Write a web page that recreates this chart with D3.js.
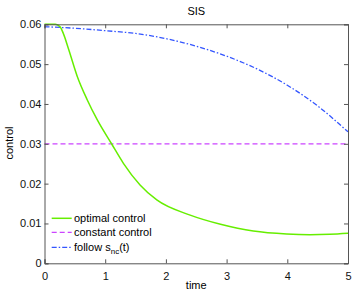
<!DOCTYPE html>
<html><head><meta charset="utf-8">
<script src="https://cdn.jsdelivr.net/npm/d3@7"></script>
<style>body{margin:0;background:#fff}svg{display:block;font-family:"Liberation Sans",Arial,sans-serif}</style>
</head><body><svg id="c" width="354" height="294"></svg>
<script>
const optT = [0, 0.18, 0.26, 0.305, 0.40, 0.54, 0.705, 0.87, 1.107, 1.30, 1.574, 1.85, 2.40, 2.9, 3.44, 3.99, 4.37, 4.7, 5.0];
const optV = [0.06, 0.06, 0.0593, 0.0579, 0.0536, 0.0469, 0.0410, 0.0360, 0.02995, 0.0251, 0.01966, 0.0159, 0.0121, 0.0098, 0.0081, 0.00736, 0.00718, 0.00728, 0.00753];
const constT = [0, 5];
const constV = [0.03, 0.03];
const folT = [0, 0.5, 1.0, 1.5, 2.0, 2.5, 3.0, 3.5, 4.0, 4.5, 5.0];
const folV = [0.0594, 0.059, 0.0584, 0.0577, 0.0564, 0.0545, 0.052, 0.0488, 0.0447, 0.0395, 0.033];
const xTicks = [0, 1, 2, 3, 4, 5];
const yTicks = [0, 0.01, 0.02, 0.03, 0.04, 0.05, 0.06];
const yTickLabels = ["0", "0.01", "0.02", "0.03", "0.04", "0.05", "0.06"];

const svg = d3.select("#c");
const L = 44.5, R = 348, T = 24.3, B = 263.3;
const x = d3.scaleLinear().domain([0, 5]).range([L, R]);
const y = d3.scaleLinear().domain([0, 0.06]).range([B, T]);

const g = svg.append("g");
const ax = svg.append("g").attr("transform", `translate(0,${B})`)
  .call(d3.axisBottom(x).tickValues(xTicks).tickSize(-4).tickPadding(9).tickFormat(d3.format("d")));
const axT = svg.append("g").attr("transform", `translate(0,${T})`)
  .call(d3.axisTop(x).tickValues(xTicks).tickSize(-4).tickFormat(""));
const ay = svg.append("g").attr("transform", `translate(${L},0)`)
  .call(d3.axisLeft(y).tickValues(yTicks).tickSize(-4).tickPadding(3).tickFormat((d, i) => yTickLabels[i]));
const ayR = svg.append("g").attr("transform", `translate(${R},0)`)
  .call(d3.axisRight(y).tickValues(yTicks).tickSize(-4).tickFormat(""));
[ax, axT, ay, ayR].forEach(a => {
  a.selectAll("path.domain").attr("stroke", "#555").attr("stroke-width", 1);
  a.selectAll(".tick line").attr("stroke", "#555");
  a.selectAll("text").attr("font-size", 11).attr("fill", "#111").attr("font-family", "Liberation Sans, Arial, sans-serif");
});

const line = d3.line().x(d => x(d[0])).y(d => y(d[1]));
const lineC = d3.line().x(d => x(d[0])).y(d => y(d[1])).curve(d3.curveMonotoneX);
const optData = optT.map((t, i) => [t, optV[i]]);
const conData = constT.map((t, i) => [t, constV[i]]);
const folData = folT.map((t, i) => [t, folV[i]]);

const green = "#66ee00", mag = "#cc44ff", blue = "#3355ff";
g.append("path").datum(conData).attr("d", line).attr("fill", "none").attr("stroke", mag).attr("stroke-width", 1.3).attr("stroke-dasharray", "5,3");
g.append("path").datum(folData).attr("d", lineC).attr("fill", "none").attr("stroke", blue).attr("stroke-width", 1.3).attr("stroke-dasharray", "5,2,1.5,2");
g.append("path").datum(optData).attr("d", lineC).attr("fill", "none").attr("stroke", green).attr("stroke-width", 1.5);

svg.append("text").attr("x", (L + R) / 2).attr("y", 15).attr("text-anchor", "middle").attr("font-size", 11).text("SIS");
svg.append("text").attr("x", (L + R) / 2).attr("y", 289).attr("text-anchor", "middle").attr("font-size", 11).text("time");
svg.append("text").attr("transform", "translate(13,143) rotate(-90)").attr("text-anchor", "middle").attr("font-size", 11).text("control");

const leg = [
  {c: green, d: null, w: 1.5, y: 218.3},
  {c: mag, d: "5,3", w: 1.3, y: 232.3},
  {c: blue, d: "5,2,1.5,2", w: 1.3, y: 247.3}
];
leg.forEach(l => {
  svg.append("line").attr("x1", 51.7).attr("x2", 71.7).attr("y1", l.y).attr("y2", l.y)
    .attr("stroke", l.c).attr("stroke-width", l.w).attr("stroke-dasharray", l.d);
});
svg.append("text").attr("x", 74).attr("y", 222.3).attr("font-size", 11).text("optimal control");
svg.append("text").attr("x", 74).attr("y", 236.3).attr("font-size", 11).text("constant control");
const t3 = svg.append("text").attr("x", 74).attr("y", 251.3).attr("font-size", 11);
t3.append("tspan").text("follow s");
t3.append("tspan").attr("dy", 3).attr("font-size", 8).text("nc");
t3.append("tspan").attr("dy", -3).text("(t)");
</script></body></html>
